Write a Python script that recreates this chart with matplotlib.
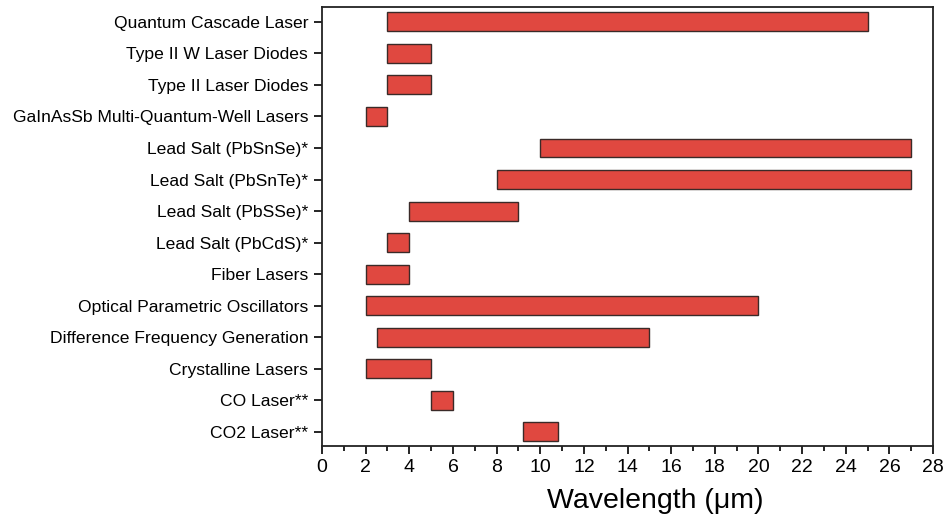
import matplotlib.pyplot as plt
from matplotlib.ticker import MultipleLocator

plt.rcParams['font.family'] = ['Liberation Sans', 'DejaVu Sans']

sources = [
    "Quantum Cascade Laser",
    "Type II W Laser Diodes",
    "Type II Laser Diodes",
    "GaInAsSb Multi-Quantum-Well Lasers",
    "Lead Salt (PbSnSe)*",
    "Lead Salt (PbSnTe)*",
    "Lead Salt (PbSSe)*",
    "Lead Salt (PbCdS)*",
    "Fiber Lasers",
    "Optical Parametric Oscillators",
    "Difference Frequency Generation",
    "Crystalline Lasers",
    "CO Laser**",
    "CO2 Laser**",
]
wl_min = [3, 3, 3, 2, 10, 8, 4, 3, 2, 2, 2.5, 2, 5, 9.2]
wl_max = [25, 5, 5, 3, 27, 27, 9, 4, 4, 20, 15, 5, 6, 10.8]

fig = plt.figure(figsize=(9.46, 5.17), dpi=100)
ax = fig.add_axes([0.3404, 0.1373, 0.6459, 0.8492])

y = list(range(len(sources)))
widths = [b - a for a, b in zip(wl_min, wl_max)]
ax.barh(y, widths, left=wl_min, height=0.6, color='#e04840',
        edgecolor='#3a2a28', linewidth=1.0)

ax.set_yticks(y)
ax.set_yticklabels(sources, fontsize=12.6)
ax.set_ylim(len(sources) - 0.55, -0.47)
ax.set_xlim(0, 28)
ax.xaxis.set_major_locator(MultipleLocator(2))
ax.xaxis.set_minor_locator(MultipleLocator(1))
ax.tick_params(axis='x', which='major', direction='out', length=6, width=1.2, labelsize=14)
ax.tick_params(axis='x', which='minor', direction='out', length=3.5, width=1.2)
ax.tick_params(axis='y', direction='out', length=6, width=1.2, pad=4)
ax.set_xlabel("Wavelength (\u03bcm)", fontsize=20.5, labelpad=5)
ax.xaxis.set_label_coords(0.545, -0.095)

for s in ax.spines.values():
    s.set_linewidth(1.3)
    s.set_color('#222222')

fig.savefig("out.png", dpi=100)
